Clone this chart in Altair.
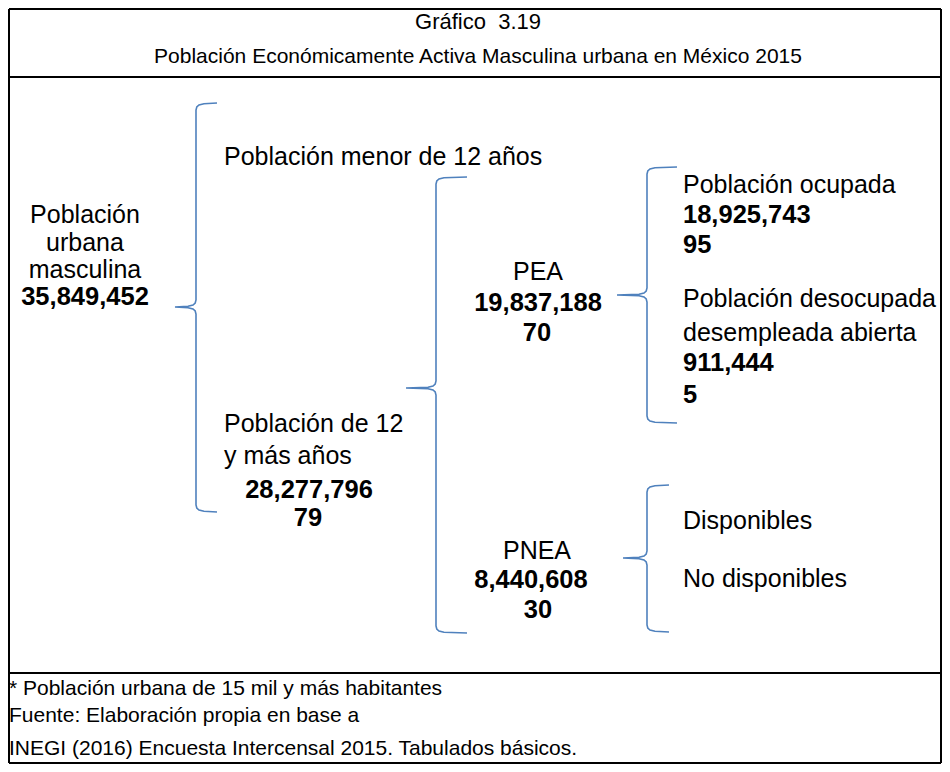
import altair as alt
import pandas as pd

# ---------------- data (text content and layout anchors) ----------------
header_text = ["Gráfico\u00a0\u00a03.19",
               "Población Económicamente Activa Masculina urbana en México 2015"]
header_x = [478, 478]
header_y = [22, 57]

center_text = ["Población", "urbana", "masculina", "PEA", "PNEA"]
center_x = [85, 85, 85, 538, 537]
center_y = [215, 243, 270, 272, 551]

center_bold_text = ["35,849,452", "28,277,796", "79", "19,837,188", "70", "8,440,608", "30"]
center_bold_x = [85, 309, 308, 538, 537, 531, 538]
center_bold_y = [297, 490, 518, 303, 333, 580, 610]

left_text = ["Población menor de 12 años", "Población de 12", "y más años",
             "Población ocupada", "Población desocupada", "desempleada abierta",
             "Disponibles", "No disponibles"]
left_x = [224, 224, 224, 683, 683, 683, 683, 683]
left_y = [157, 424, 456, 185, 299, 333, 521, 579]

left_bold_text = ["18,925,743", "95", "911,444", "5"]
left_bold_x = [683, 683, 683, 683]
left_bold_y = [215, 245, 363, 395]

footer_text = ["* Población urbana de 15 mil y más habitantes",
               "Fuente: Elaboración propia en base a",
               "INEGI (2016) Encuesta Intercensal 2015. Tabulados básicos."]
footer_x = [9, 9, 9]
footer_y = [689, 716, 749]

# braces: tip x, spine x, serif end x, top y, middle y, bottom y
brace_tip_x = [175, 406, 617, 623]
brace_spine_x = [196, 436, 647, 647]
brace_end_x = [217, 467, 677, 669]
brace_top_y = [103, 177, 167, 485]
brace_mid_y = [307, 388, 295, 558]
brace_bot_y = [512, 633, 423, 632]

# frame rules
rule_x1 = [9, 9, 9, 941, 9, 9]
rule_x2 = [941, 941, 9, 941, 941, 941]
rule_y1 = [9, 763, 9, 9, 77, 673]
rule_y2 = [9, 763, 763, 763, 77, 673]

# ---------------- build ----------------
W, H = 934, 756
OX, OY = 8, 8
xs = alt.Scale(domain=[OX, OX + W], range=[0, W], nice=False, zero=False)
ys = alt.Scale(domain=[OY, OY + H], range=[0, H], nice=False, zero=False)
FONT = "Liberation Sans"
BLUE = "#4f81bd"


def tdf(t, x, y):
    return pd.DataFrame({"t": t, "x": x, "y": y})


def text_layer(df, align, size, weight="normal"):
    return alt.Chart(df).mark_text(
        align=align, baseline="middle", font=FONT, fontSize=size,
        fontWeight=weight, color="black"
    ).encode(
        x=alt.X("x:Q", scale=xs, axis=None),
        y=alt.Y("y:Q", scale=ys, axis=None),
        text="t:N",
    )


rows = []
for b, (tip, v, end, top, mid, bot) in enumerate(zip(
        brace_tip_x, brace_spine_x, brace_end_x, brace_top_y, brace_mid_y, brace_bot_y)):
    pts = [(end, top), (v + 8, top + 0.8), (v + 3, top + 2), (v + 0.8, top + 4), (v, top + 7),
           (v, mid - 7), (v - 0.8, mid - 4), (v - 3, mid - 2), (v - 8, mid - 0.8), (tip, mid),
           (v - 8, mid + 0.8), (v - 3, mid + 2), (v - 0.8, mid + 4), (v, mid + 7),
           (v, bot - 7), (v + 0.8, bot - 4), (v + 3, bot - 2), (v + 8, bot - 0.8), (end, bot)]
    for i, (px, py) in enumerate(pts):
        rows.append({"b": b, "i": i, "x": px, "y": py})
brace_df = pd.DataFrame(rows)

braces = alt.Chart(brace_df).mark_line(color=BLUE, strokeWidth=1.6).encode(
    x=alt.X("x:Q", scale=xs, axis=None),
    y=alt.Y("y:Q", scale=ys, axis=None),
    detail="b:N",
    order="i:Q",
)

rule_df = pd.DataFrame({"x": rule_x1, "x2": rule_x2, "y": rule_y1, "y2": rule_y2})
rules = alt.Chart(rule_df).mark_rule(color="black", strokeWidth=2).encode(
    x=alt.X("x:Q", scale=xs, axis=None), x2="x2:Q",
    y=alt.Y("y:Q", scale=ys, axis=None), y2="y2:Q",
)

chart = alt.layer(
    rules,
    braces,
    text_layer(tdf(header_text[:1], header_x[:1], header_y[:1]), "center", 22),
    text_layer(tdf(header_text[1:], header_x[1:], header_y[1:]), "center", 21),
    text_layer(tdf(center_text, center_x, center_y), "center", 25),
    text_layer(tdf(center_bold_text, center_bold_x, center_bold_y), "center", 25.5, "bold"),
    text_layer(tdf(left_text, left_x, left_y), "left", 25),
    text_layer(tdf(left_bold_text, left_bold_x, left_bold_y), "left", 25.5, "bold"),
    text_layer(tdf(footer_text, footer_x, footer_y), "left", 21),
).properties(
    width=W, height=H, padding=0,
    autosize=alt.AutoSizeParams(type="none"),
    background="white",
).configure_view(stroke=None)

chart.save("out.html", embed_options={"renderer": "svg", "actions": False})
